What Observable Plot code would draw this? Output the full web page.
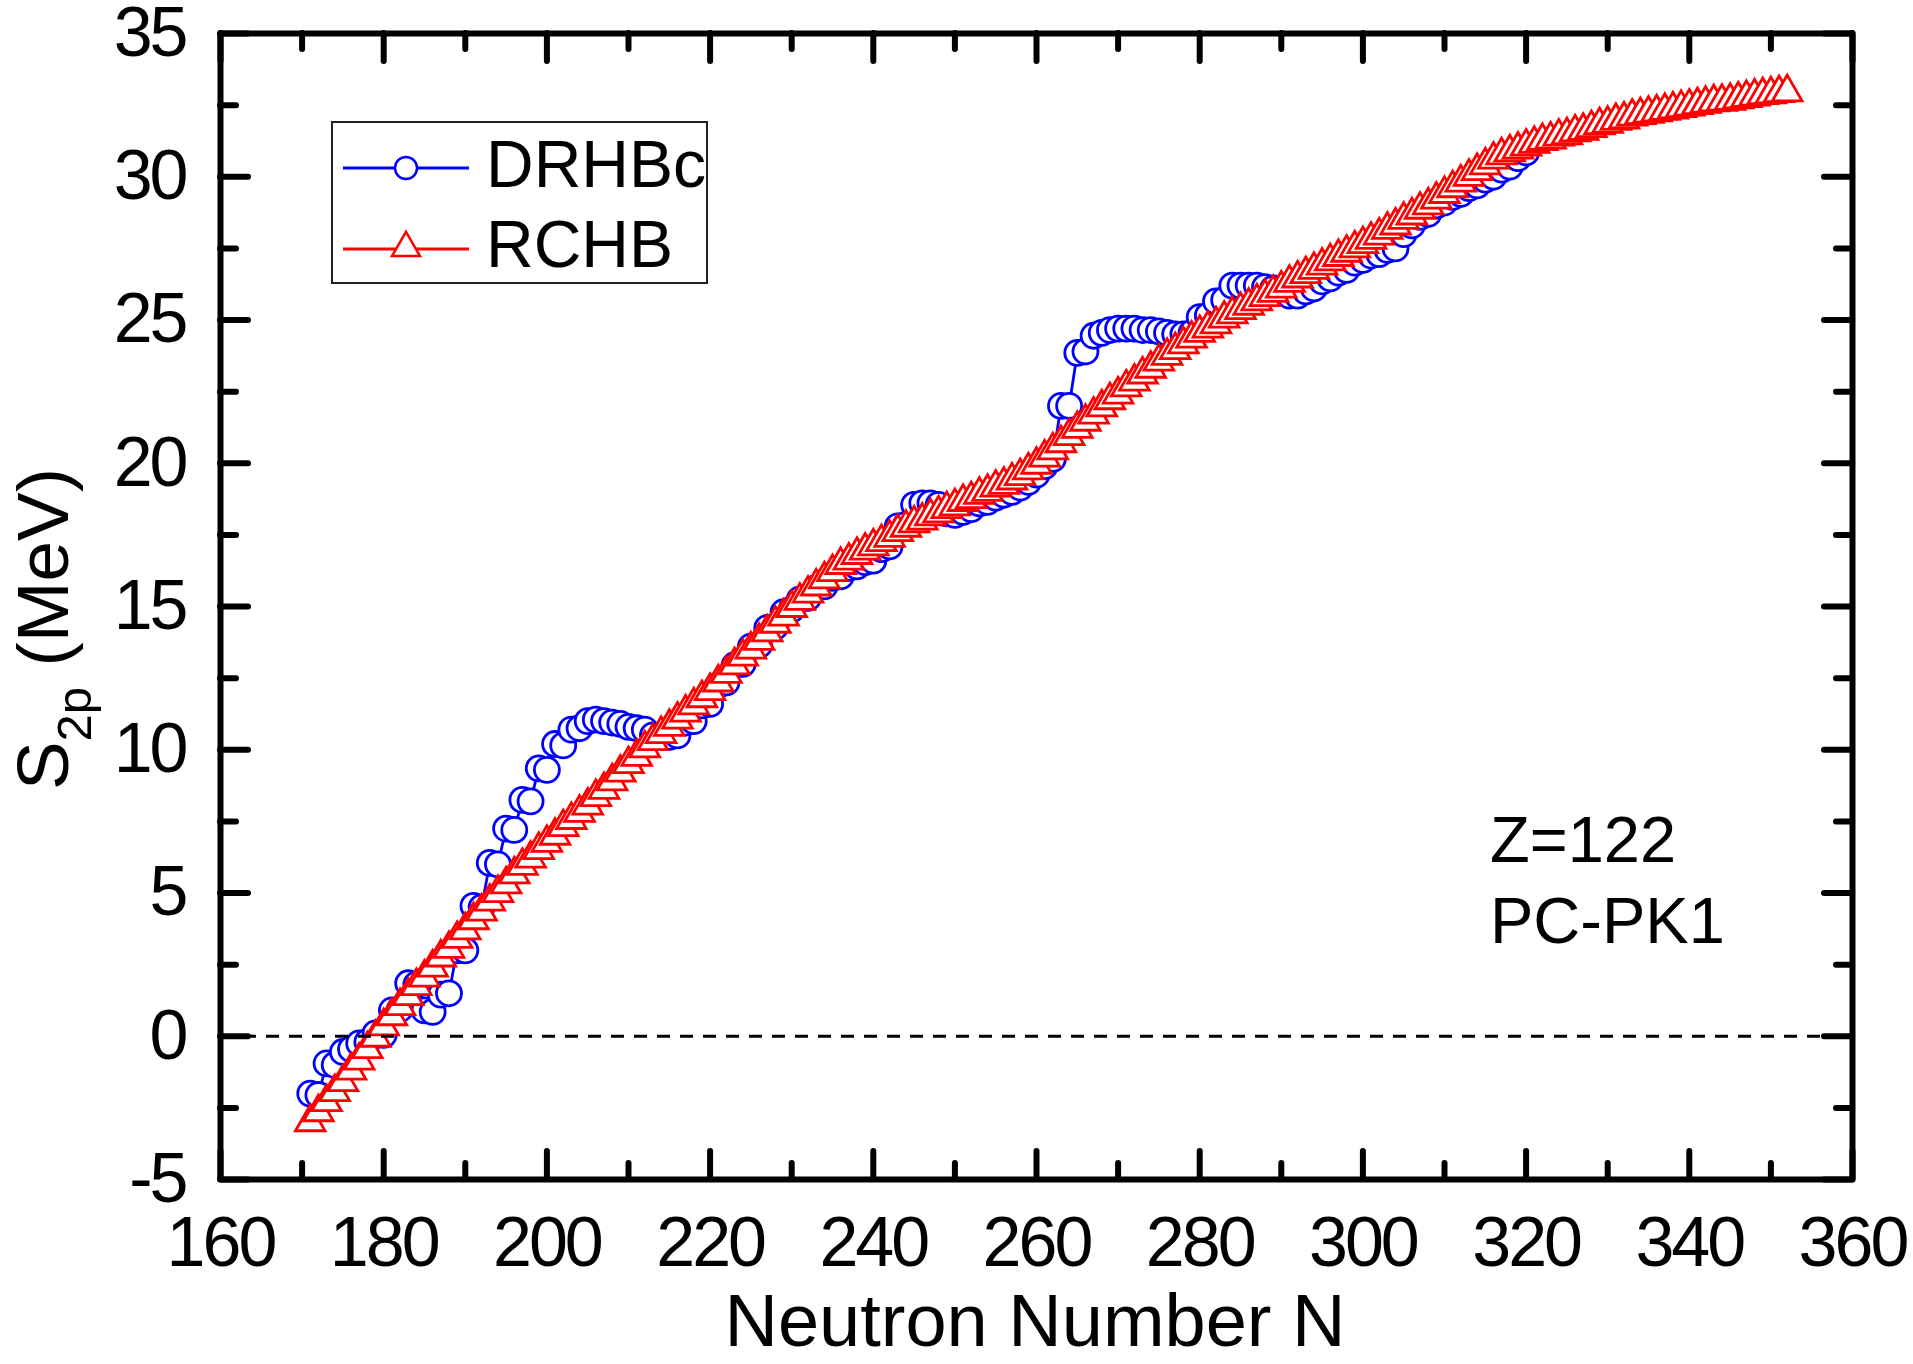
<!DOCTYPE html>
<html>
<head>
<meta charset="utf-8">
<script src="https://cdn.jsdelivr.net/npm/d3@7"></script>
<script src="https://cdn.jsdelivr.net/npm/@observablehq/plot@0.6"></script>
<style>
  html, body { margin: 0; padding: 0; background: #fff; overflow: hidden; }
  #chart svg { display: block; }
  g[aria-label="x-axis tick label"] text, g[aria-label="y-axis tick label"] text { letter-spacing: -3px; }
</style>
</head>
<body>
<div id="chart"></div>
<script>
// ---------------- data ----------------
const drhbcN = [
  171,172,173,174,175,176,177,178,179,180,
  181,182,183,184,185,186,187,188,189,190,
  191,192,193,194,195,196,197,198,199,200,
  201,202,203,204,205,206,207,208,209,210,
  211,212,213,214,215,216,217,218,219,220,
  221,222,223,224,225,226,227,228,229,230,
  231,232,233,234,235,236,237,238,239,240,
  241,242,243,244,245,246,247,248,249,250,
  251,252,253,254,255,256,257,258,259,260,
  261,262,263,264,265,266,267,268,269,270,
  271,272,273,274,275,276,277,278,279,280,
  281,282,283,284,285,286,287,288,289,290,
  291,292,293,294,295,296,297,298,299,300,
  301,302,303,304,305,306,307,308,309,310,
  311,312,313,314,315,316,317,318,319,320
];
const drhbcS2p = [
  -2.0,-2.05,-0.95,-1.0,-0.55,-0.45,-0.25,-0.2,0.1,0.05,
  0.9,0.95,1.85,1.8,0.9,0.85,1.45,1.5,3.0,3.0,
  4.55,4.5,6.05,6.0,7.25,7.2,8.25,8.2,9.35,9.3,
  10.2,10.15,10.7,10.75,11.0,11.05,11.0,10.95,10.9,10.8,
  10.75,10.7,10.5,10.45,10.45,10.5,10.95,11.0,11.55,11.6,
  12.25,12.35,12.95,13.0,13.6,13.65,14.25,14.3,14.8,14.9,
  15.25,15.3,15.65,15.7,16.0,16.05,16.35,16.4,16.55,16.6,
  17.0,17.1,17.8,17.85,18.55,18.6,18.6,18.55,18.25,18.2,
  18.3,18.4,18.6,18.65,18.8,18.9,19.0,19.15,19.35,19.6,
  19.9,20.15,22.0,22.0,23.85,23.9,24.45,24.55,24.65,24.7,
  24.7,24.7,24.65,24.65,24.6,24.55,24.5,24.5,24.55,25.1,
  25.15,25.65,25.7,26.2,26.2,26.2,26.2,26.15,26.1,25.95,
  25.85,25.85,26.0,26.1,26.35,26.45,26.65,26.75,27.0,27.1,
  27.25,27.3,27.45,27.5,28.0,28.3,28.6,28.7,29.0,29.1,
  29.3,29.4,29.6,29.7,29.9,30.0,30.25,30.35,30.65,30.85
];
const rchbN = [
  171,172,173,174,175,176,177,178,179,180,
  181,182,183,184,185,186,187,188,189,190,
  191,192,193,194,195,196,197,198,199,200,
  201,202,203,204,205,206,207,208,209,210,
  211,212,213,214,215,216,217,218,219,220,
  221,222,223,224,225,226,227,228,229,230,
  231,232,233,234,235,236,237,238,239,240,
  241,242,243,244,245,246,247,248,249,250,
  251,252,253,254,255,256,257,258,259,260,
  261,262,263,264,265,266,267,268,269,270,
  271,272,273,274,275,276,277,278,279,280,
  281,282,283,284,285,286,287,288,289,290,
  291,292,293,294,295,296,297,298,299,300,
  301,302,303,304,305,306,307,308,309,310,
  311,312,313,314,315,316,317,318,319,320,
  321,322,323,324,325,326,327,328,329,330,
  331,332,333,334,335,336,337,338,339,340,
  341,342,343,344,345,346,347,348,349,350,
  351,352
];
const rchbS2p = [
  -3.0,-2.65,-2.3,-1.95,-1.6,-1.2,-0.85,-0.45,-0.05,0.35,
  0.7,1.05,1.4,1.75,2.05,2.4,2.75,3.05,3.4,3.7,
  4.05,4.35,4.7,5.0,5.3,5.65,5.95,6.2,6.5,6.75,
  7.0,7.3,7.55,7.8,8.05,8.35,8.6,8.9,9.2,9.5,
  9.75,10.05,10.3,10.55,10.8,11.05,11.3,11.55,11.8,12.05,
  12.35,12.65,12.95,13.25,13.5,13.8,14.1,14.4,14.65,14.95,
  15.2,15.45,15.7,15.95,16.2,16.45,16.6,16.8,16.95,17.1,
  17.25,17.4,17.6,17.75,17.9,18.0,18.15,18.25,18.4,18.5,
  18.65,18.75,18.9,19.0,19.15,19.25,19.4,19.55,19.75,19.95,
  20.2,20.45,20.7,20.95,21.2,21.45,21.7,21.95,22.2,22.4,
  22.65,22.85,23.1,23.3,23.55,23.75,23.95,24.15,24.35,24.55,
  24.7,24.85,25.05,25.2,25.35,25.5,25.65,25.8,25.95,26.1,
  26.3,26.45,26.6,26.75,26.9,27.05,27.2,27.35,27.5,27.65,
  27.8,27.95,28.15,28.3,28.5,28.65,28.85,29.0,29.2,29.4,
  29.6,29.8,30.0,30.2,30.4,30.6,30.75,30.85,30.95,31.05,
  31.15,31.25,31.3,31.4,31.45,31.55,31.6,31.7,31.8,31.85,
  31.95,32.0,32.1,32.15,32.2,32.25,32.3,32.35,32.4,32.45,
  32.5,32.55,32.6,32.62,32.65,32.7,32.75,32.8,32.85,32.88,
  32.92,32.95
];
const xTicks = [160,180,200,220,240,260,280,300,320,340,360];
const xMinorTicks = [170,190,210,230,250,270,290,310,330,350];
const yTicks = [-5,0,5,10,15,20,25,30,35];
const yMinorTicks = [-2.5,2.5,7.5,12.5,17.5,22.5,27.5,32.5];
const seriesNames = ["DRHBc", "RCHB"];
const annotations = ["Z=122", "PC-PK1"];
const xLabel = "Neutron Number N";

// ---------------- build ----------------
const drhbc = drhbcN.map((n, i) => ({N: n, S: drhbcS2p[i]}));
const rchb = rchbN.map((n, i) => ({N: n, S: rchbS2p[i]}));

const W = 1913, H = 1364, mL = 220, mR = 61, mT = 33, mB = 185;
const innerW = W - mL - mR, innerH = H - mT - mB;
const BLUE = "#0000ff", RED = "#ff0000";
const FONT = "'Liberation Sans', Arial, Helvetica, sans-serif";
const majorLen = 28, minorLen = 16, tickW = 6;
const circleR = 12.5, triR = 11, symW = 2.8;

const svg = Plot.plot({
  width: W, height: H,
  marginLeft: mL, marginRight: mR, marginTop: mT, marginBottom: mB,
  style: {fontFamily: FONT, background: "#fff", color: "#000"},
  x: {domain: [160, 360], axis: null},
  y: {domain: [-5, 35], axis: null},
  marks: [
    Plot.line(drhbc, {x: "N", y: "S", stroke: BLUE, strokeWidth: 2.8}),
    Plot.dot(drhbc, {x: "N", y: "S", symbol: "circle", r: circleR, stroke: BLUE, strokeWidth: symW, fill: "#fff"}),
    Plot.line(rchb, {x: "N", y: "S", stroke: RED, strokeWidth: 2.8}),
    Plot.dot(rchb, {x: "N", y: "S", symbol: "triangle", r: triR, stroke: RED, strokeWidth: symW, fill: "#fff"}),
    Plot.ruleY([0], {stroke: "#000", strokeWidth: 3, strokeDasharray: "13,10"}),
    // inward ticks on all four sides
    Plot.tickX(xTicks, {x: d => d, insetTop: innerH - majorLen, stroke: "#000", strokeWidth: tickW, strokeLinecap: "round"}),
    Plot.tickX(xTicks, {x: d => d, insetBottom: innerH - majorLen, stroke: "#000", strokeWidth: tickW, strokeLinecap: "round"}),
    Plot.tickX(xMinorTicks, {x: d => d, insetTop: innerH - minorLen, stroke: "#000", strokeWidth: tickW, strokeLinecap: "round"}),
    Plot.tickX(xMinorTicks, {x: d => d, insetBottom: innerH - minorLen, stroke: "#000", strokeWidth: tickW, strokeLinecap: "round"}),
    Plot.tickY(yTicks, {y: d => d, insetRight: innerW - majorLen, stroke: "#000", strokeWidth: tickW, strokeLinecap: "round"}),
    Plot.tickY(yTicks, {y: d => d, insetLeft: innerW - majorLen, stroke: "#000", strokeWidth: tickW, strokeLinecap: "round"}),
    Plot.tickY(yMinorTicks, {y: d => d, insetRight: innerW - minorLen, stroke: "#000", strokeWidth: tickW, strokeLinecap: "round"}),
    Plot.tickY(yMinorTicks, {y: d => d, insetLeft: innerW - minorLen, stroke: "#000", strokeWidth: tickW, strokeLinecap: "round"}),
    Plot.frame({stroke: "#000", strokeWidth: tickW, strokeLinejoin: "round"}),
    Plot.axisX(xTicks, {anchor: "bottom", tickSize: 0, tickPadding: 37, fontSize: 70, label: null, tickFormat: d => String(d)}),
    Plot.axisY(yTicks, {anchor: "left", tickSize: 0, tickPadding: 35, fontSize: 70, label: null, tickFormat: d => String(d)})
  ]
});

document.getElementById("chart").appendChild(svg);

// ---------------- decorations ----------------
const s = d3.select(svg);

// legend
const lg = s.append("g").attr("font-family", FONT).attr("text-anchor", "start");
lg.append("rect").attr("x", 332).attr("y", 122).attr("width", 375).attr("height", 161)
  .attr("fill", "#fff").attr("stroke", "#222").attr("stroke-width", 2);
lg.append("line").attr("x1", 343).attr("x2", 469).attr("y1", 168).attr("y2", 168)
  .attr("stroke", BLUE).attr("stroke-width", 3);
lg.append("circle").attr("cx", 406).attr("cy", 168).attr("r", 11)
  .attr("fill", "#fff").attr("stroke", BLUE).attr("stroke-width", 2.5);
lg.append("text").attr("x", 486).attr("y", 187).attr("font-size", 66).attr("text-anchor", "start").text(seriesNames[0]);
lg.append("line").attr("x1", 343).attr("x2", 469).attr("y1", 249).attr("y2", 249)
  .attr("stroke", RED).attr("stroke-width", 3);
lg.append("path").attr("d", d3.symbol(d3.symbolTriangle, 10.4 * 10.4 * Math.PI)())
  .attr("transform", "translate(406,248)")
  .attr("fill", "#fff").attr("stroke", RED).attr("stroke-width", 2.5);
lg.append("text").attr("x", 486).attr("y", 267).attr("font-size", 66).attr("text-anchor", "start").text(seriesNames[1]);

// annotation
s.append("text").attr("x", 1490).attr("y", 862).attr("font-size", 65).attr("font-family", FONT)
  .attr("text-anchor", "start").text(annotations[0]);
s.append("text").attr("x", 1490).attr("y", 943).attr("font-size", 65).attr("font-family", FONT)
  .attr("text-anchor", "start").text(annotations[1]);

// x label
s.append("text").attr("x", 1035).attr("y", 1346).attr("text-anchor", "middle")
  .attr("font-size", 74).attr("font-family", FONT).text(xLabel);

// y label: S_2p (MeV)
const yl = s.append("text").attr("transform", "translate(68,629) rotate(-90)")
  .attr("text-anchor", "middle").attr("font-size", 73).attr("font-family", FONT);
yl.append("tspan").text("S");
yl.append("tspan").attr("font-size", 49).attr("dy", 23).text("2p");
yl.append("tspan").attr("dy", -23).text(" (MeV)");
</script>
</body>
</html>
